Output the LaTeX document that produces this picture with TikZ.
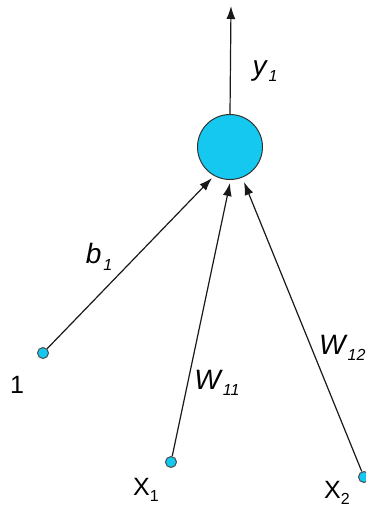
\documentclass[tikz,border=0pt]{standalone}
\usepackage{fontspec}
\setmainfont{Liberation Sans}
\usetikzlibrary{arrows.meta}
\definecolor{neuron}{RGB}{20,200,240}
\newcommand\lbl[2]{#1\raisebox{-0.5ex}{\fontsize{16}{16}\selectfont #2}}
\newcommand\ilbl[2]{#1\kern2pt\raisebox{-0.45ex}{\fontsize{16}{16}\selectfont #2}}
\begin{document}
\begin{tikzpicture}[x=1pt,y=-1pt,
  conn/.style={draw=black!90,line width=1.2pt,-{Latex[length=13pt,width=9pt]}},
  inp/.style={circle,draw=black!70,fill=neuron,line width=1pt,minimum size=11pt,inner sep=0pt},
  txt/.style={font=\fontsize{25}{25}\selectfont,inner sep=0pt},
  itxt/.style={font=\fontsize{28}{28}\selectfont\itshape,inner sep=0pt}]
\useasboundingbox (0,0) rectangle (366,507);
\node[circle,draw=black!80,fill=neuron,line width=1pt,minimum size=65pt,inner sep=0pt] (n) at (230,147) {};
\node[inp] (i0) at (43,353) {};
\node[inp] (i1) at (171,462) {};
\node[inp] (i2) at (364,477) {};
\coordinate (e0) at (212,178);
\coordinate (e1) at (230,183);
\coordinate (e2) at (244,182);
\coordinate (top) at (231,6);
\draw[conn] (i0) -- (e0);
\draw[conn] (i1) -- (e1);
\draw[conn] (i2) -- (e2);
\draw[conn] (n.north) -- (top);
\node[itxt] (ly) at (265,71) {\ilbl{y}{1}};
\node[itxt] (lb) at (99,257) {\ilbl{b}{1}};
\node[itxt] (lw1) at (217,383) {\ilbl{W}{11}};
\node[itxt,anchor=west] (lw2) at (319,348) {\ilbl{W}{12}};
\node[txt] (l0) at (17,385) {1};
\node[txt] (lx1) at (146,490) {\lbl{X}{\upshape 1}};
\node[txt,anchor=west] (lx2) at (324,493) {\lbl{X}{\upshape 2}};
\end{tikzpicture}
\end{document}
